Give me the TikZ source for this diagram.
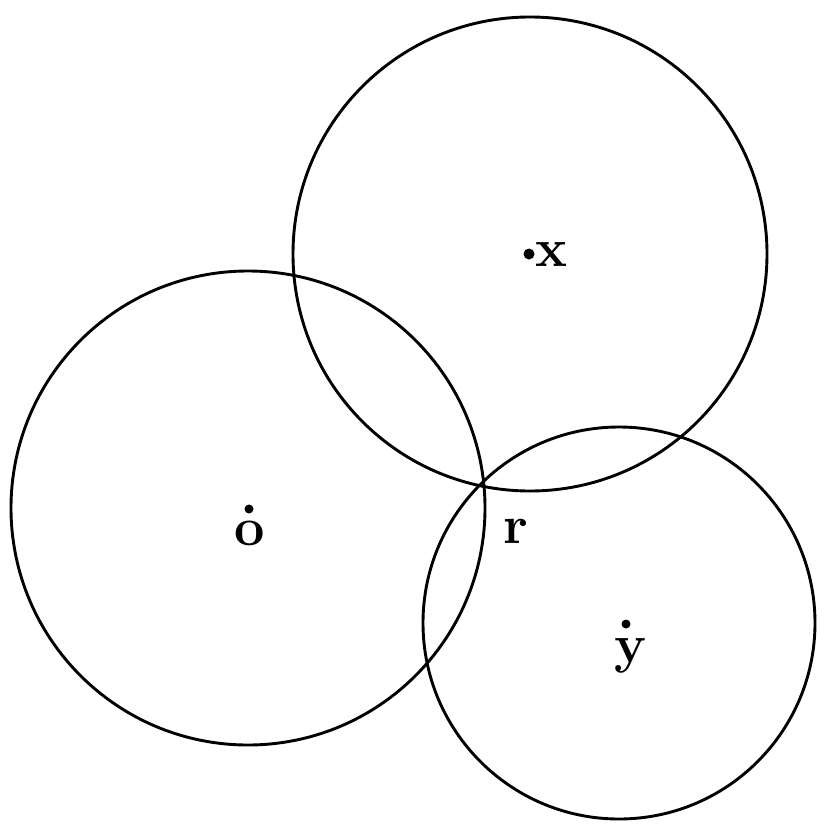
\documentclass[tikz,border=0pt]{standalone}
\begin{document}
\begin{tikzpicture}[x=1pt,y=-1pt,
  circ/.style={line width=2.9pt},
  lbl/.style={font=\fontsize{54}{58}\selectfont\bfseries, inner sep=0pt, anchor=base},
  pt/.style={fill=black}]
\useasboundingbox (0,0) rectangle (830,830);
\coordinate (O) at (248,508);
\coordinate (X) at (530,254);
\coordinate (Y) at (619,623);
\draw[circ] (O) circle (237);
\draw[circ] (X) circle (237);
\draw[circ] (Y) circle (196);
\fill[pt] (249,509) circle (4.5);
\fill[pt] (529,254) circle (5.5);
\fill[pt] (626,624) circle (4.5);
\node[lbl] (lo) at (250,545) {o};
\node[lbl] (lx) at (552,266) {x};
\node[lbl] (ly) at (631,662) {y};
\node[lbl] (lr) at (516,543) {r};
\end{tikzpicture}
\end{document}
